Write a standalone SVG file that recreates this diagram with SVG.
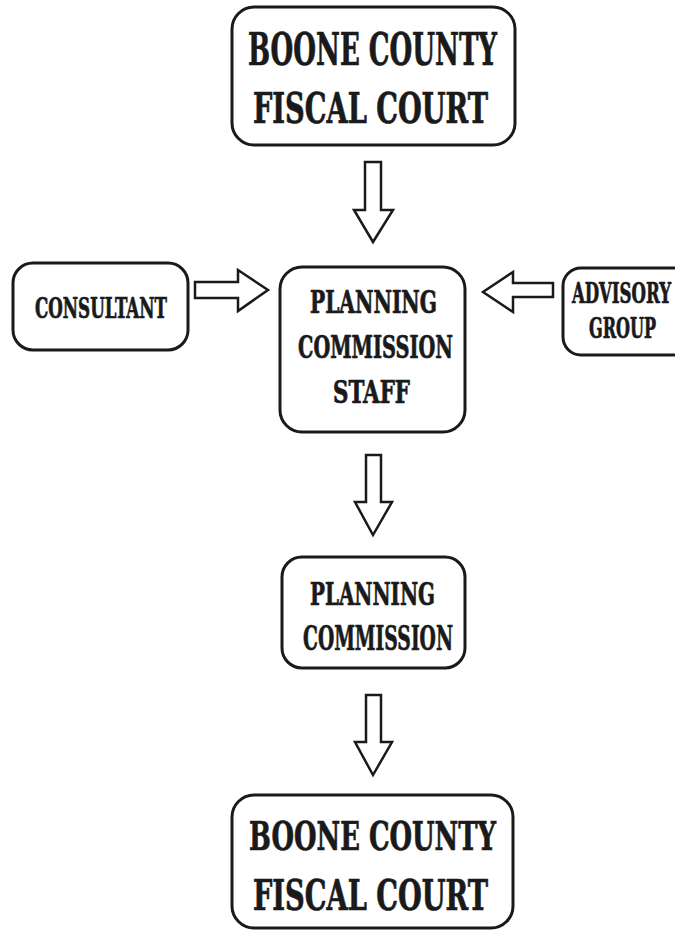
<svg xmlns="http://www.w3.org/2000/svg" width="675" height="930" viewBox="0 0 675 930">
<style>
.box{fill:#fff;stroke:#1a1a1a;stroke-width:3}
.arr{fill:#fff;stroke:#1a1a1a;stroke-width:2.5;stroke-linejoin:miter}
.t{font-family:"DejaVu Serif Condensed","DejaVu Serif","Liberation Serif",serif;font-weight:bold;font-stretch:condensed;fill:#1a1a1a;stroke:#1a1a1a;stroke-width:0.7}
</style>
<rect width="675" height="930" fill="#fff"/>
<g id="connectors">
<polygon class="arr" points="365,162 381,162 381,210 393,210 373,242 354,210 365,210"/>
<polygon class="arr" points="366,455 381,455 381,502 392,502 373,535 355,502 366,502"/>
<polygon class="arr" points="366,695 381,695 381,742 392,742 373,775 355,742 366,742"/>
<polygon class="arr" points="195,282 238,282 238,270 268,290 238,311 238,298 195,298"/>
<polygon class="arr" points="553,283 513,283 513,272 483,292 513,312 513,297 553,297"/>
</g>
<g id="fiscal-court-top">
<rect class="box" x="232" y="7" width="283" height="138" rx="22"/>
<text class="t" x="248" y="65" font-size="45" textLength="249" lengthAdjust="spacingAndGlyphs">BOONE COUNTY</text>
<text class="t" x="253" y="123" font-size="43" textLength="235" lengthAdjust="spacingAndGlyphs">FISCAL COURT</text>
</g>
<g id="consultant">
<rect class="box" x="13" y="263" width="175" height="87" rx="20"/>
<text class="t" x="35" y="318" font-size="27" textLength="132" lengthAdjust="spacingAndGlyphs">CONSULTANT</text>
</g>
<g id="advisory-group">
<rect class="box" x="563" y="268" width="130" height="87" rx="18"/>
<text class="t" x="572" y="303" font-size="28" textLength="99" lengthAdjust="spacingAndGlyphs">ADVISORY</text>
<text class="t" x="589" y="338" font-size="28" textLength="67" lengthAdjust="spacingAndGlyphs">GROUP</text>
</g>
<g id="planning-commission-staff">
<rect class="box" x="280" y="267" width="185" height="165" rx="22"/>
<text class="t" x="310" y="313" font-size="31" textLength="127" lengthAdjust="spacingAndGlyphs">PLANNING</text>
<text class="t" x="298" y="358" font-size="31" textLength="155" lengthAdjust="spacingAndGlyphs">COMMISSION</text>
<text class="t" x="333" y="403" font-size="31" textLength="77" lengthAdjust="spacingAndGlyphs">STAFF</text>
</g>
<g id="planning-commission">
<rect class="box" x="282" y="557" width="183" height="111" rx="20"/>
<text class="t" x="310" y="605" font-size="31" textLength="125" lengthAdjust="spacingAndGlyphs">PLANNING</text>
<text class="t" x="303" y="650" font-size="33" textLength="150" lengthAdjust="spacingAndGlyphs">COMMISSION</text>
</g>
<g id="fiscal-court-bottom">
<rect class="box" x="232" y="795" width="281" height="133" rx="22"/>
<text class="t" x="249" y="850" font-size="40" textLength="247" lengthAdjust="spacingAndGlyphs">BOONE COUNTY</text>
<text class="t" x="253" y="910" font-size="42" textLength="235" lengthAdjust="spacingAndGlyphs">FISCAL COURT</text>
</g>
</svg>
